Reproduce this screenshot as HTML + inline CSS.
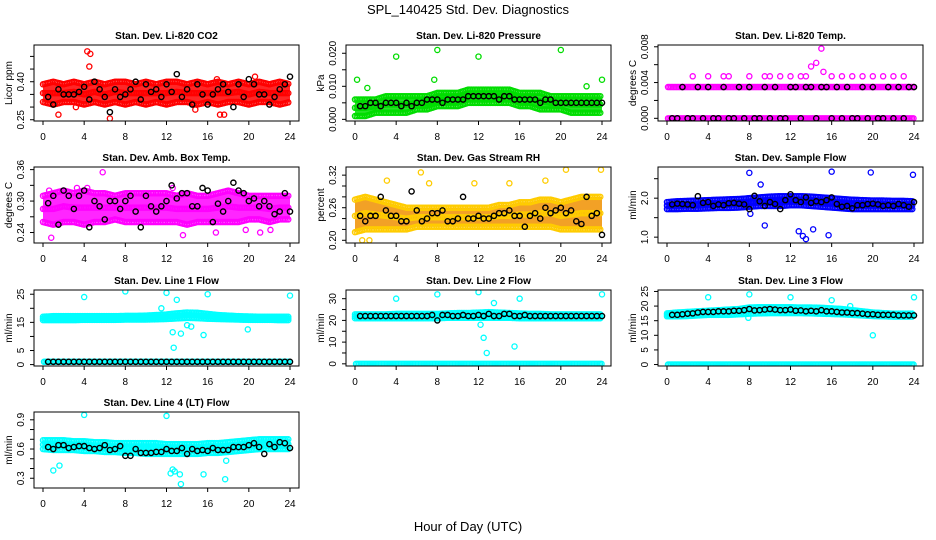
<!DOCTYPE html>
<html><head><meta charset="utf-8"><style>
html,body{margin:0;padding:0;background:#fff;}
svg{display:block;font-family:"Liberation Sans",sans-serif;}
</style></head><body>
<svg id="chart" width="936" height="540" viewBox="0 0 936 540" xmlns="http://www.w3.org/2000/svg">
<text x="468" y="14" text-anchor="middle" font-size="13">SPL_140425  Std. Dev. Diagnostics</text>
<text x="468" y="531" text-anchor="middle" font-size="13">Hour of Day (UTC)</text>
</svg>
<script>
// ---- data ----
const hours = [0,1,2,3,4,5,6,7,8,9,10,11,12,13,14,15,16,17,18,19,20,21,22,23,24];
const blackHours = [0.5,1,1.5,2,2.5,3,3.5,4,4.5,5,5.5,6,6.5,7,7.5,8,8.5,9,9.5,10,10.5,11,11.5,12,12.5,13,13.5,14,14.5,15,15.5,16,16.5,17,17.5,18,18.5,19,19.5,20,20.5,21,21.5,22,22.5,23,23.5,24];

const co2Lo = [0.32,0.31,0.32,0.32,0.31,0.32,0.31,0.32,0.31,0.32,0.31,0.32,0.31,0.32,0.32,0.31,0.32,0.31,0.32,0.32,0.31,0.32,0.32,0.31,0.32];
const co2Hi = [0.39,0.40,0.39,0.40,0.39,0.40,0.39,0.40,0.40,0.39,0.40,0.39,0.40,0.40,0.39,0.40,0.39,0.40,0.39,0.40,0.39,0.40,0.39,0.40,0.39];
const co2Black = [0.34,0.31,0.37,0.35,0.35,0.35,0.36,0.38,0.33,0.40,0.37,0.34,0.28,0.37,0.34,0.35,0.37,0.40,0.33,0.39,0.36,0.37,0.34,0.39,0.36,0.43,0.34,0.37,0.31,0.39,0.35,0.31,0.35,0.37,0.39,0.36,0.30,0.39,0.34,0.41,0.39,0.35,0.35,0.31,0.34,0.37,0.39,0.42];
const co2OutX = [4.3,4.6,4.5,1.5,6.5,17.2,17.6,20.6,16.9,3.2,14.8];
const co2OutY = [0.52,0.51,0.46,0.27,0.255,0.27,0.27,0.42,0.41,0.30,0.29];

const presLo = [0.001,0.001,0.002,0.002,0.002,0.002,0.003,0.003,0.004,0.004,0.004,0.005,0.005,0.005,0.005,0.005,0.004,0.004,0.003,0.003,0.003,0.002,0.002,0.002,0.002];
const presHi = [0.006,0.006,0.006,0.007,0.007,0.007,0.007,0.007,0.008,0.008,0.008,0.009,0.009,0.009,0.009,0.009,0.008,0.008,0.008,0.007,0.007,0.007,0.007,0.007,0.007];
const presBlack = [0.004,0.004,0.005,0.005,0.004,0.005,0.005,0.005,0.004,0.005,0.004,0.005,0.005,0.006,0.006,0.006,0.005,0.006,0.006,0.006,0.006,0.007,0.007,0.007,0.007,0.007,0.007,0.006,0.007,0.007,0.006,0.006,0.006,0.006,0.006,0.005,0.006,0.006,0.005,0.005,0.005,0.005,0.005,0.005,0.005,0.005,0.005,0.005];
const presOutX = [4,8,12,20,0.2,24,7.7,1.2,22.5];
const presOutY = [0.019,0.021,0.019,0.021,0.012,0.012,0.012,0.0095,0.010];

const tempLevels = [0,0.0035];
const tempBlack = [0,0,0.0035,0,0,0.0035,0,0.0035,0,0,0.0035,0,0,0.0035,0,0.0035,0,0,0.0035,0,0.0035,0,0,0.0035,0.0035,0,0.0035,0.0035,0,0.0035,0.0035,0,0.0035,0,0.0035,0,0,0.0035,0,0.0035,0,0,0.0035,0,0.0035,0,0.0035,0.0035];
const tempOutX = [2.5,4,5.5,6,8,9.5,10,11,12,13,13.5,14,14.5,15,15.2,16,17,18,19,20,21,22,23];
const tempOutY = [0.0047,0.0047,0.0047,0.0047,0.0047,0.0047,0.0047,0.0047,0.0047,0.0047,0.0047,0.0058,0.0062,0.0078,0.0052,0.0047,0.0047,0.0047,0.0047,0.0047,0.0047,0.0047,0.0047];

const ambLo = [0.26,0.255,0.26,0.26,0.255,0.26,0.26,0.265,0.26,0.26,0.26,0.26,0.26,0.26,0.255,0.26,0.26,0.26,0.26,0.26,0.265,0.265,0.26,0.265,0.265];
const ambHi = [0.31,0.315,0.32,0.315,0.32,0.315,0.315,0.31,0.315,0.315,0.315,0.315,0.315,0.31,0.315,0.31,0.31,0.315,0.32,0.315,0.31,0.31,0.31,0.31,0.31];
const ambBlack = [0.296,0.31,0.255,0.32,0.31,0.285,0.31,0.32,0.25,0.30,0.29,0.265,0.30,0.30,0.285,0.30,0.31,0.28,0.25,0.31,0.29,0.28,0.29,0.30,0.33,0.305,0.315,0.315,0.29,0.29,0.325,0.32,0.26,0.295,0.28,0.30,0.335,0.32,0.315,0.30,0.305,0.29,0.30,0.29,0.275,0.28,0.315,0.28];
const ambOutX = [5.8,0.6,0.8,3.3,4.3,12.6,13.6,16.8,19.7,21.1,22.1];
const ambOutY = [0.355,0.32,0.23,0.325,0.325,0.325,0.235,0.24,0.245,0.24,0.245];

const rhLo = [0.215,0.22,0.22,0.22,0.22,0.22,0.225,0.225,0.225,0.225,0.225,0.225,0.225,0.225,0.225,0.225,0.225,0.225,0.225,0.225,0.22,0.22,0.22,0.22,0.22];
const rhHi = [0.275,0.28,0.275,0.27,0.265,0.26,0.26,0.26,0.26,0.26,0.26,0.26,0.26,0.26,0.265,0.265,0.27,0.27,0.275,0.275,0.27,0.275,0.28,0.28,0.28];
const rhBlack = [0.245,0.235,0.245,0.245,0.28,0.255,0.245,0.245,0.235,0.235,0.29,0.255,0.235,0.24,0.25,0.25,0.255,0.235,0.235,0.24,0.28,0.24,0.24,0.245,0.24,0.24,0.245,0.25,0.25,0.255,0.245,0.245,0.225,0.245,0.25,0.24,0.26,0.25,0.255,0.26,0.25,0.255,0.235,0.23,0.28,0.245,0.25,0.21];
const rhOutX = [3.1,6.4,7.2,11.6,15,18.5,20.5,23.9,0.7,1.4];
const rhOutY = [0.31,0.325,0.305,0.305,0.305,0.31,0.33,0.33,0.20,0.20];

const flowLo = [1.72,1.72,1.73,1.73,1.74,1.75,1.75,1.76,1.78,1.80,1.80,1.80,1.82,1.82,1.80,1.78,1.76,1.74,1.72,1.72,1.72,1.72,1.72,1.72,1.72];
const flowHi = [1.90,1.92,1.93,1.94,1.95,1.96,1.97,1.98,2.00,2.02,2.04,2.05,2.05,2.05,2.04,2.02,2.00,1.98,1.96,1.95,1.94,1.94,1.93,1.93,1.92];
const flowBlack = [1.84,1.86,1.85,1.84,1.82,2.05,1.88,1.90,1.80,1.84,1.82,1.87,1.88,1.86,1.84,1.72,2.06,1.92,1.80,1.90,1.85,1.72,1.95,2.10,1.95,1.90,2.02,1.88,1.92,1.90,1.95,2.02,1.85,1.78,1.80,1.74,1.82,1.82,1.85,1.86,1.84,1.80,1.82,1.80,1.85,1.82,1.78,1.90];
const flowOutX = [8,16,19.8,23.9,13.5,13.2,12.8,9.5,14.2,15.7,8.1,9.1];
const flowOutY = [2.65,2.68,2.66,2.6,0.95,1.03,1.15,1.3,1.2,1.05,1.6,2.35];

const l1Lo = [15.8,15.8,15.8,15.8,15.9,15.9,15.9,15.9,16.0,16.0,16.0,16.1,16.2,16.4,16.6,16.5,16.3,16.2,16.1,16.0,15.9,15.9,15.9,15.8,15.8];
const l1Hi = [17.0,17.2,17.2,17.2,17.2,17.2,17.2,17.2,17.3,17.3,17.4,17.6,17.8,18.2,18.5,18.4,18.0,17.6,17.4,17.2,17.1,17.0,17.0,17.0,17.0];
const l1Black = [1,1,1,1,1,1,1,1,1,1,1,1,1,1,1,1,1,1,1,1,1,1,1,1,1,1,1,1,1,1,1,1,1,1,1,1,1,1,1,1,1,1,1,1,1,1,1,1];
const l1OutX = [4,8,12,16,24,13,11.5,12.6,12.7,13.4,14,15.6,19.9,14.4];
const l1OutY = [24,26,25.5,25,24.5,23,20,11.5,6,11,14,10.5,12.5,13.5];

const l2Lo = [21,21,21,21,21,21,21,21,21,21.2,21.2,21.2,21.2,21.2,21.2,21.2,21,21,21,21,21,21,21,21,21];
const l2Hi = [22.8,22.8,22.8,22.8,23,23,23,23,23,23.2,23.4,23.4,23.6,23.8,23.6,23.4,23.2,23,23,22.8,22.8,22.8,22.8,22.8,22.8];
const l2Black = [22,22,22,22,22,22,22,22,22,22,22,22,22,22,22.5,20,22.5,22.5,22,22,22.5,22,22,22.5,22,23,22,22,23,23,22,22,22.5,22,22,22,22,22,22,22,22,22,22,22,22,22,22,22];
const l2OutX = [4,8,12,13.5,12.2,12.5,12.8,15.5,16,24];
const l2OutY = [30,32,33,28,18,12,5,8,30,32];

const l3Lo = [16.5,16.5,16.6,16.8,17,17,17,17.2,17.4,17.5,17.6,17.6,17.6,17.6,17.5,17.4,17.3,17.2,17,16.8,16.6,16.5,16.4,16.4,16.4];
const l3Hi = [17.5,17.8,18,18.2,18.4,18.6,18.8,19,19.5,19.6,19.6,19.6,19.6,19.5,19.5,19.4,19.2,19,18.6,18.2,17.8,17.6,17.4,17.4,17.4];
const l3Black = [17,17,17.2,17.4,17.5,17.8,18,18,18,18.2,18.2,18.2,18.4,18.4,18.6,19,18.5,18.6,18.8,19,18.8,18.6,18.6,18.8,18.4,18.5,18.2,18.4,18.2,18.6,18.2,18.2,18,17.8,17.8,17.6,17.6,17.4,17.2,17.2,17,17,17,17,16.8,16.8,16.8,16.8];
const l3OutX = [4,8,12,16,20,24,7.9,17.8];
const l3OutY = [23,24,23,22,10,23,16,20];

const l4Lo = [0.60,0.59,0.59,0.59,0.58,0.58,0.57,0.57,0.56,0.56,0.55,0.55,0.55,0.55,0.55,0.55,0.56,0.56,0.57,0.58,0.59,0.60,0.60,0.60,0.60];
const l4Hi = [0.69,0.69,0.69,0.68,0.68,0.67,0.67,0.66,0.66,0.66,0.66,0.66,0.65,0.65,0.65,0.65,0.66,0.66,0.67,0.68,0.69,0.70,0.70,0.70,0.70];
const l4Black = [0.62,0.60,0.64,0.64,0.61,0.62,0.63,0.63,0.61,0.60,0.61,0.64,0.59,0.60,0.63,0.53,0.53,0.60,0.56,0.56,0.56,0.57,0.57,0.60,0.58,0.58,0.61,0.55,0.60,0.58,0.59,0.58,0.61,0.59,0.59,0.59,0.62,0.62,0.62,0.64,0.66,0.62,0.55,0.65,0.62,0.67,0.66,0.61];
const l4OutX = [4,12,1,1.6,12.4,12.6,12.8,13.3,13.4,15.6,17.7,17.8];
const l4OutY = [0.95,0.94,0.38,0.43,0.35,0.39,0.37,0.34,0.24,0.34,0.29,0.48];

// ---- layout ----
const svg = document.getElementById('chart');
const NS = 'http://www.w3.org/2000/svg';
function mk(tag, attrs, parent){ const e=document.createElementNS(NS,tag); for(const k in attrs) e.setAttribute(k,attrs[k]); (parent||svg).appendChild(e); return e; }

const panels = [
 {slug:'co2',col:0,row:0,title:'Stan. Dev. Li-820 CO2',ylab:'Licor ppm',ymin:0.245,ymax:0.545,ticks:[0.25,0.30,0.35,0.40,0.45,0.50],labs:['0.25','','','0.40','',''],color:'#ff0000',fill:'#ff0000',lo:co2Lo,hi:co2Hi,black:co2Black,ox:co2OutX,oy:co2OutY},
 {slug:'pressure',col:1,row:0,title:'Stan. Dev. Li-820 Pressure',ylab:'kPa',ymin:-0.0005,ymax:0.0225,ticks:[0,0.005,0.010,0.015,0.020],labs:['0.000','','0.010','','0.020'],color:'#00dd00',fill:'#00dd00',lo:presLo,hi:presHi,black:presBlack,ox:presOutX,oy:presOutY},
 {slug:'temp',col:2,row:0,title:'Stan. Dev. Li-820 Temp.',ylab:'degrees C',ymin:-0.0003,ymax:0.0082,ticks:[0,0.002,0.004,0.006,0.008],labs:['0.000','','0.004','','0.008'],color:'#ff00ff',fill:null,levels:tempLevels,black:tempBlack,ox:tempOutX,oy:tempOutY},
 {slug:'amb-box-temp',col:0,row:1,title:'Stan. Dev. Amb. Box Temp.',ylab:'degrees C',ymin:0.22,ymax:0.365,ticks:[0.24,0.27,0.30,0.33,0.36],labs:['0.24','','0.30','','0.36'],color:'#ff00ff',fill:'#ff00ff',lo:ambLo,hi:ambHi,black:ambBlack,ox:ambOutX,oy:ambOutY},
 {slug:'rh',col:1,row:1,title:'Stan. Dev. Gas Stream RH',ylab:'percent',ymin:0.195,ymax:0.335,ticks:[0.20,0.22,0.24,0.26,0.28,0.30,0.32],labs:['0.20','','','0.26','','','0.32'],color:'#ffcc00',fill:'#f09000',lo:rhLo,hi:rhHi,black:rhBlack,ox:rhOutX,oy:rhOutY},
 {slug:'sample-flow',col:2,row:1,title:'Stan. Dev. Sample Flow',ylab:'ml/min',ymin:0.85,ymax:2.8,ticks:[1.0,1.5,2.0,2.5],labs:['1.0','','2.0',''],color:'#0000ff',fill:'#0000ff',lo:flowLo,hi:flowHi,black:flowBlack,ox:flowOutX,oy:flowOutY},
 {slug:'line1-flow',col:0,row:2,title:'Stan. Dev. Line 1 Flow',ylab:'ml/min',ymin:-0.5,ymax:26.5,ticks:[0,5,10,15,20,25],labs:['0','5','','15','','25'],color:'#00ffff',fill:'#00ffff',lo:l1Lo,hi:l1Hi,black:l1Black,ox:l1OutX,oy:l1OutY,zeroRow:1},
 {slug:'line2-flow',col:1,row:2,title:'Stan. Dev. Line 2 Flow',ylab:'ml/min',ymin:-1,ymax:34,ticks:[0,5,10,15,20,25,30],labs:['0','','10','','20','','30'],color:'#00ffff',fill:'#00ffff',lo:l2Lo,hi:l2Hi,black:l2Black,ox:l2OutX,oy:l2OutY,zeroRow:0},
 {slug:'line3-flow',col:2,row:2,title:'Stan. Dev. Line 3 Flow',ylab:'ml/min',ymin:-0.5,ymax:25.5,ticks:[0,5,10,15,20,25],labs:['0','5','10','15','20','25'],color:'#00ffff',fill:'#00ffff',lo:l3Lo,hi:l3Hi,black:l3Black,ox:l3OutX,oy:l3OutY,zeroRow:0},
 {slug:'line4-flow',col:0,row:3,title:'Stan. Dev. Line 4 (LT) Flow',ylab:'ml/min',ymin:0.2,ymax:0.98,ticks:[0.3,0.4,0.5,0.6,0.7,0.8,0.9],labs:['0.3','','','0.6','','','0.9'],color:'#00ffff',fill:'#00ffff',lo:l4Lo,hi:l4Hi,black:l4Black,ox:l4OutX,oy:l4OutY}
];

const colX = [34,346,658];
const rowY = [45,167,290,412];
const R = 2.6;
panels.forEach(p=>{
  const bx = colX[p.col], bw = 265;
  const by = rowY[p.row], bh = 76;
  const x0 = bx + 9, x1 = bx + 256;
  const xs = h => x0 + (h/24)*(x1-x0);
  const ys = v => by + bh - ((v - p.ymin)/(p.ymax - p.ymin))*bh;
  const g = mk('g',{});
  
  
  const t = mk('text',{x:bx+bw/2,y:by-6,'text-anchor':'middle','font-size':'10','font-weight':'bold'},g);
  t.textContent = p.title;
  
  
  const yl = mk('text',{x:0,y:0,'text-anchor':'middle','font-size':'10',transform:`translate(${bx-22},${by+bh/2}) rotate(-90)`},g);
  yl.textContent = p.ylab;
  
  
  const clipId = 'clip-'+p.slug;
  const cp = mk('clipPath',{id:clipId},g);
  mk('rect',{x:bx,y:by,width:bw,height:bh},cp);
  const data = mk('g',{'clip-path':`url(#${clipId})`},g);
  
  
  if (p.lo){
    let pts = [];
    hours.forEach((h,i)=>pts.push(xs(h)+','+ys(p.hi[i])));
    for(let i=hours.length-1;i>=0;i--) pts.push(xs(hours[i])+','+ys(p.lo[i]));
    const poly = mk('polygon',{points:pts.join(' '),fill:p.fill,'fill-opacity':'0.85'},data);
    
    
    for(let i=0;i<hours.length-1;i++){
      for(let k=0;k<6;k++){
        const f=k/6, h=hours[i]+f;
        const lo=p.lo[i]+(p.lo[i+1]-p.lo[i])*f, hi=p.hi[i]+(p.hi[i+1]-p.hi[i])*f;
        [lo,hi,(lo+hi)/2].forEach(v=>{
          const c = mk('circle',{cx:xs(h),cy:ys(v),r:R,fill:'none',stroke:p.color,'stroke-width':1.3},data);
          
          
        });
      }
    }
  }
  if (p.levels){
    p.levels.forEach(v=>{
      for(let h=0.1;h<=24;h+=0.15){
        const c = mk('circle',{cx:xs(h),cy:ys(v),r:R,fill:'none',stroke:p.color,'stroke-width':1.3},data);
        
        
      }
    });
  }
  if (p.zeroRow!==undefined){
    for(let h=0.1;h<=24;h+=0.15){
      const c = mk('circle',{cx:xs(h),cy:ys(p.zeroRow),r:R,fill:'none',stroke:p.color,'stroke-width':1.3},data);
      
      
    }
  }
  p.ox.forEach((h,i)=>{
    const c = mk('circle',{cx:xs(h),cy:ys(p.oy[i]),r:R,fill:'none',stroke:p.color,'stroke-width':1.3},data);
    
    
  });
  p.black.forEach((v,i)=>{
    const c = mk('circle',{cx:xs(blackHours[i]),cy:ys(v),r:R,fill:'none',stroke:'#000','stroke-width':1.4},data);
    
    
  });
  const box = mk('rect',{x:bx,y:by,width:bw,height:bh,fill:'none',stroke:'#000','stroke-width':1},g);
  
  
  const xa = mk('g',{},g);
  
  
  [0,4,8,12,16,20,24].forEach(h=>{
    mk('line',{x1:xs(h),x2:xs(h),y1:by+bh,y2:by+bh+4,stroke:'#000'},xa);
    const tl = mk('text',{x:xs(h),y:by+bh+19,'text-anchor':'middle','font-size':'10'},xa);
    tl.textContent = h;
  });
  const ya = mk('g',{},g);
  
  
  p.ticks.forEach((v,i)=>{
    mk('line',{x1:bx-4,x2:bx,y1:ys(v),y2:ys(v),stroke:'#000'},ya);
    if (p.labs[i]){
      const tl = mk('text',{x:0,y:0,'text-anchor':'middle','font-size':'10',transform:`translate(${bx-10},${ys(v)}) rotate(-90)`},ya);
      tl.textContent = p.labs[i];
    }
  });
});
</script>
</body></html>
